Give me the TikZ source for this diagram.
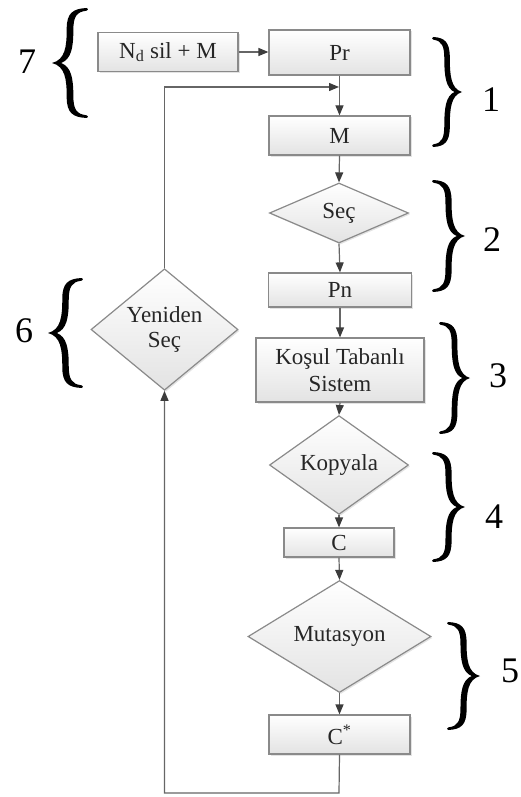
\documentclass[tikz,border=0pt]{standalone}
\usepackage{fontspec}
\setmainfont{Liberation Serif}
\usetikzlibrary{shapes.geometric,arrows.meta,shadows}

\definecolor{edge}{HTML}{8A8A8A}
\definecolor{wire}{HTML}{666666}
\definecolor{tipc}{HTML}{3C3C3C}
\definecolor{ink}{HTML}{262626}
\definecolor{shade}{HTML}{E3E3E3}

\tikzset{
  box/.style={draw=edge, line width=1.2pt, top color=white, bottom color=shade,
    text=ink, font=\fontsize{23}{27}\selectfont, align=center, inner sep=0pt,
    drop shadow={shadow xshift=1.5pt, shadow yshift=-1.5pt, opacity=0.22}},
  stepbox/.style={box, rectangle},
  choice/.style={box, diamond},
  flow/.style={draw=wire, line width=1.2pt,
    -{Triangle[length=10pt,width=8pt,color=tipc]}},
  tag/.style={font=\fontsize{36}{36}\selectfont, text=black, inner sep=0pt},
  % a curly brace "}" : ends at x=0, tip at x=1, from y=-1 to y=1
  curly/.pic={
    \fill[black] (0,-1) .. controls (0.42,-0.99) and (0.58,-0.9) .. (0.58,-0.62)
      .. controls (0.58,-0.3) and (0.62,-0.06) .. (1,0)
      .. controls (0.62,0.06) and (0.58,0.3) .. (0.58,0.62)
      .. controls (0.58,0.9) and (0.42,0.99) .. (0,1)
      .. controls (-0.04,0.985) and (-0.04,0.955) .. (0.02,0.95)
      .. controls (0.3,0.93) and (0.39,0.84) .. (0.39,0.6)
      .. controls (0.39,0.28) and (0.45,0.07) .. (0.74,0)
      .. controls (0.45,-0.07) and (0.39,-0.28) .. (0.39,-0.6)
      .. controls (0.39,-0.84) and (0.3,-0.93) .. (0.02,-0.95)
      .. controls (-0.04,-0.955) and (-0.04,-0.985) .. (0,-1) -- cycle;
  }
}

\begin{document}
\begin{tikzpicture}[x=1pt, y=-1pt]
\useasboundingbox (0,0) rectangle (521,797);

% process column
\node[stepbox, minimum width=140pt, minimum height=39pt] (nd) at (168,52) {N\textsubscript{d} sil + M};
\node[stepbox, minimum width=141pt, minimum height=45pt] (pr) at (339.5,52.5) {Pr};
\node[stepbox, minimum width=141pt, minimum height=39pt] (m) at (339.5,135.5) {M};
\node[choice, minimum width=139pt, minimum height=60pt] (sec) at (339,213) {Seç};
\node[stepbox, minimum width=143pt, minimum height=34pt] (pn) at (340,290) {Pn};
\node[stepbox, minimum width=168pt, minimum height=64pt] (kosul) at (340,370) {Koşul Tabanlı\\Sistem};
\node[choice, minimum width=139pt, minimum height=66pt] (kop) at (339,465) {Kopyala};
\node[stepbox, minimum width=110pt, minimum height=29pt] (c) at (339,542.5) {C};
\node[choice, minimum width=183pt, minimum height=81pt] (mut) at (339.5,636.5) {Mutasyon};
\node[stepbox, minimum width=141pt, minimum height=39pt] (cs) at (339.5,734.5) {C\textsuperscript{*}};
\node[choice, minimum width=147pt, minimum height=93pt] (yen) at (164.5,329.5) {Yeniden\\[-2pt]Seç};

\coordinate (join) at (339,87);
\coordinate (low) at (339,793);

% connectors
\draw[flow] (nd.east) -- (nd.east -| pr.west);
\draw[flow] (pr.south) -- (m.north);
\draw[flow] (m.south) -- (sec.north);
\draw[flow] (sec.south) -- (pn.north);
\draw[flow] (pn.south) -- (kosul.north);
\draw[flow] (kosul.south) -- (kop.north);
\draw[flow] (kop.south) -- (c.north);
\draw[flow] (c.south) -- (mut.north);
\draw[flow] (mut.south) -- (cs.north);
\draw[flow] (cs.south) -- (low) -| (yen.south);
\draw[flow] (yen.north) |- (join);

% stage braces and numbers
\path (433,92) pic[xscale=29, yscale=55] {curly};
\node[tag] (n1) at (491,100) {1};
\path (433,236) pic[xscale=32, yscale=56] {curly};
\node[tag] (n2) at (492,240) {2};
\path (440,378) pic[xscale=30, yscale=56] {curly};
\node[tag] (n3) at (498,376) {3};
\path (433,507) pic[xscale=32, yscale=55] {curly};
\node[tag] (n4) at (494,517) {4};
\path (448,676) pic[xscale=32, yscale=54] {curly};
\node[tag] (n5) at (510,671) {5};
\path (87,63) pic[xscale=-35, yscale=55] {curly};
\node[tag] (n7) at (27,62) {7};
\path (82,333) pic[xscale=-34, yscale=55] {curly};
\node[tag] (n6) at (24,331) {6};
\end{tikzpicture}
\end{document}
